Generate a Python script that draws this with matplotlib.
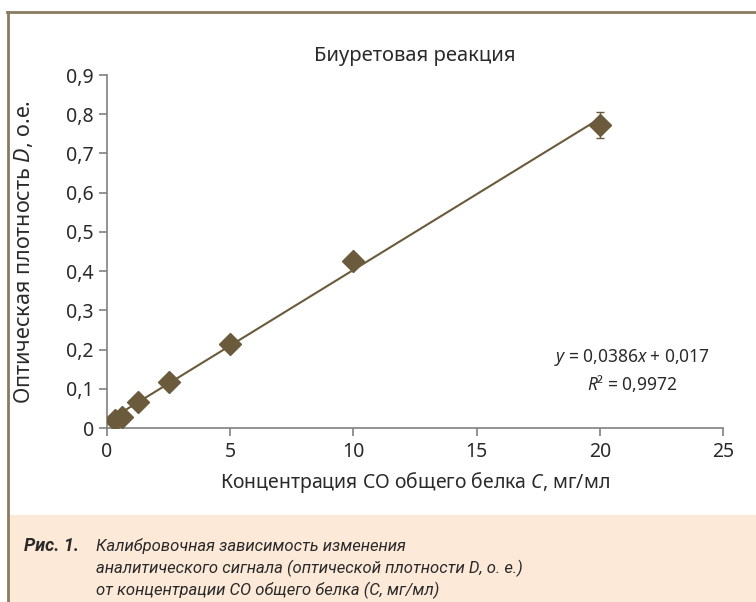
import numpy as np
import matplotlib.pyplot as plt
from matplotlib.patches import Rectangle
from matplotlib.lines import Line2D

# calibration data (concentration, mg/ml vs optical density)
conc = [0.3125, 0.625, 1.25, 2.5, 5, 10, 20]
density = [0.020, 0.028, 0.066, 0.118, 0.214, 0.427, 0.773]
errors = [0.004, 0.005, 0.006, 0.007, 0.008, 0.016, 0.033]
slope, intercept, r2 = 0.0386, 0.017, 0.9972

x_ticks = [0, 5, 10, 15, 20, 25]
y_ticks = [0, 0.1, 0.2, 0.3, 0.4, 0.5, 0.6, 0.7, 0.8, 0.9]

plt.rcParams['font.family'] = ['Noto Sans', 'DejaVu Sans']
plt.rcParams['mathtext.fontset'] = 'custom'
plt.rcParams['mathtext.rm'] = 'Noto Sans'
plt.rcParams['mathtext.it'] = 'Noto Sans:italic'
col = '#6b5a3c'
txt = '#2a2a2a'

fig = plt.figure(figsize=(7.56, 6.02), dpi=100)
W, H = 756, 602

# frame and caption background
fig.add_artist(Rectangle((9 / W, 0), 1, (H - 515) / H, transform=fig.transFigure,
                         facecolor='#fde9d8', edgecolor='none'))
fig.add_artist(Line2D([8 / W, 8 / W], [0, 1 - 12 / H], transform=fig.transFigure,
                      color='#8a7a60', lw=2))
fig.add_artist(Line2D([7 / W, 1], [1 - 12 / H, 1 - 12 / H], transform=fig.transFigure,
                      color='#8a7a60', lw=2))

ax = fig.add_axes([107 / W, 1 - 428 / H, (723 - 107) / W, (428 - 75) / H])

xf = np.array([conc[0], conc[-1]])
ax.plot(xf, slope * xf + intercept, color=col, lw=1.5, zorder=2)
ax.errorbar(conc, density, yerr=errors, fmt='D', color=col, ms=11,
            ecolor=col, elinewidth=1, capsize=3, zorder=3)

ax.set_xlim(0, 25)
ax.set_ylim(0, 0.9)
ax.set_xticks(x_ticks)
ax.set_yticks(y_ticks)
ax.set_xticklabels([str(t) for t in x_ticks])
ax.set_yticklabels(['0'] + [('%.1f' % t).replace('.', ',') for t in y_ticks[1:]])
for s in ['top', 'right']:
    ax.spines[s].set_visible(False)
for s in ['left', 'bottom']:
    ax.spines[s].set_color('#808080')
    ax.spines[s].set_linewidth(1.2)
ax.tick_params(colors='#808080', labelcolor=txt, labelsize=14, length=6, width=1.2)
ax.tick_params(axis='x', pad=4)

ax.set_title('Биуретовая реакция', fontsize=14.5, color=txt, pad=10)
ax.set_xlabel('Концентрация СО общего белка $C$, мг/мл', fontsize=14, color=txt, labelpad=6)
ax.set_ylabel('Оптическая плотность $D$, о.е.', fontsize=15.5, color=txt, labelpad=22)

ax.text(21.3, 0.179, '$y$ = 0,0386$x$ + 0,017', ha='center', va='center', fontsize=12.5, color=txt)
ax.text(21.3, 0.113, '$R$² = 0,9972', ha='center', va='center', fontsize=12.5, color=txt)

cap_font = ['Roboto', 'DejaVu Sans']
fig.text(24 / W, 1 - 546 / H, 'Рис. 1.', fontsize=13, fontweight='bold', fontstyle='italic',
         family=cap_font, color=txt, va='center')
lines = ['Калибровочная зависимость изменения',
         'аналитического сигнала (оптической плотности D, о. е.)',
         'от концентрации СО общего белка (С, мг/мл)']
for i, ln in enumerate(lines):
    fig.text(96 / W, 1 - (546 + 22 * i) / H, ln, fontsize=12, fontstyle='italic',
             family=cap_font, color=txt, va='center')

fig.savefig('out.png', dpi=100)
